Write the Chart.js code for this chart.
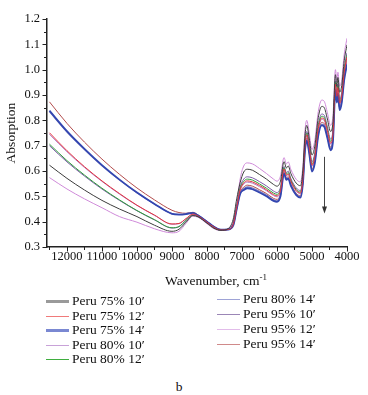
<!DOCTYPE html>
<html><head><meta charset="utf-8">
<script src="https://cdn.jsdelivr.net/npm/chart.js@4.4.1/dist/chart.umd.min.js"></script>
<style>
html,body{margin:0;padding:0;background:#fff;}
body{width:368px;height:395px;position:relative;overflow:hidden;font-family:"Liberation Serif","Times New Roman",serif;color:#111;}
#wrap{position:absolute;left:0;top:0;width:368px;height:300px;}
.lg{position:absolute;font-size:13.5px;line-height:15px;white-space:nowrap;}
.sw{position:absolute;width:23px;}
#cap{position:absolute;left:0;width:358px;text-align:center;top:379px;font-size:13.5px;line-height:15px;}
#xtitle{position:absolute;left:116px;width:200px;text-align:center;top:273px;font-size:13.5px;line-height:15px;white-space:nowrap;}
#xtitle sup{font-size:9px;vertical-align:5px;line-height:0;}
</style></head><body>
<div id="wrap"><canvas id="c"></canvas></div>
<div id="xtitle">Wavenumber, cm<sup>-1</sup></div>
<div id="legend"></div>
<div id="cap">b</div>
<script>
// ---- data ----
const wavenumbers = [12500,12000,11500,11000,10500,10000,9500,9000,8800,8600,8400,8250,8000,7800,7600,7400,7250,7150,7050,6950,6850,6700,6500,6300,6100,6000,5900,5800,5730,5680,5600,5450,5330,5260,5200,5150,5080,5000,4920,4820,4720,4650,4560,4470,4400,4330,4290,4260,4210,4150,4080,4000];
const peru75_10 = [0.623,0.571,0.525,0.484,0.450,0.420,0.386,0.362,0.370,0.398,0.424,0.419,0.394,0.374,0.366,0.372,0.410,0.490,0.555,0.596,0.607,0.603,0.586,0.568,0.547,0.540,0.560,0.637,0.612,0.620,0.589,0.552,0.542,0.603,0.740,0.780,0.730,0.663,0.698,0.811,0.855,0.850,0.805,0.756,0.795,0.980,0.934,0.969,0.911,0.938,1.035,1.098];
const peru75_12 = [0.751,0.680,0.617,0.561,0.511,0.465,0.426,0.391,0.393,0.412,0.430,0.422,0.398,0.378,0.367,0.369,0.389,0.456,0.527,0.553,0.561,0.557,0.543,0.526,0.507,0.502,0.523,0.608,0.583,0.589,0.559,0.523,0.513,0.570,0.703,0.743,0.693,0.623,0.656,0.768,0.809,0.804,0.759,0.710,0.749,0.943,0.895,0.930,0.868,0.896,0.989,1.050];
const peru75_14 = [0.838,0.757,0.687,0.623,0.566,0.515,0.470,0.431,0.428,0.430,0.435,0.424,0.400,0.380,0.368,0.369,0.385,0.450,0.510,0.525,0.532,0.528,0.515,0.500,0.482,0.478,0.500,0.590,0.565,0.570,0.540,0.505,0.495,0.550,0.680,0.720,0.670,0.598,0.630,0.740,0.780,0.775,0.730,0.682,0.720,0.920,0.870,0.905,0.840,0.870,0.960,1.020];
const peru80_10 = [0.745,0.676,0.614,0.559,0.509,0.464,0.425,0.390,0.392,0.411,0.429,0.421,0.398,0.378,0.367,0.369,0.389,0.455,0.524,0.548,0.556,0.552,0.538,0.522,0.503,0.498,0.519,0.605,0.580,0.586,0.556,0.520,0.510,0.567,0.699,0.739,0.689,0.619,0.652,0.763,0.804,0.799,0.754,0.706,0.744,0.939,0.890,0.925,0.863,0.892,0.984,1.045];
const peru80_12 = [0.706,0.641,0.584,0.532,0.486,0.444,0.408,0.376,0.381,0.405,0.427,0.420,0.396,0.376,0.366,0.370,0.390,0.457,0.532,0.559,0.568,0.564,0.549,0.532,0.513,0.508,0.529,0.613,0.588,0.594,0.563,0.527,0.517,0.575,0.709,0.749,0.699,0.629,0.662,0.774,0.816,0.811,0.766,0.717,0.756,0.949,0.901,0.936,0.874,0.902,0.996,1.057];
const peru80_14 = [0.834,0.754,0.685,0.621,0.565,0.514,0.470,0.432,0.429,0.430,0.434,0.424,0.399,0.379,0.368,0.369,0.386,0.451,0.513,0.530,0.537,0.533,0.520,0.505,0.486,0.482,0.504,0.593,0.568,0.573,0.543,0.508,0.498,0.554,0.684,0.724,0.674,0.602,0.635,0.745,0.785,0.780,0.735,0.687,0.725,0.924,0.874,0.909,0.845,0.875,0.965,1.025];
const peru95_10 = [0.700,0.636,0.580,0.529,0.484,0.443,0.407,0.375,0.380,0.404,0.426,0.419,0.396,0.376,0.366,0.370,0.392,0.459,0.537,0.568,0.577,0.573,0.558,0.541,0.521,0.515,0.536,0.618,0.593,0.600,0.569,0.533,0.523,0.582,0.716,0.756,0.706,0.637,0.671,0.783,0.825,0.820,0.775,0.726,0.765,0.956,0.908,0.943,0.883,0.911,1.005,1.067];
const peru95_12 = [0.574,0.529,0.490,0.455,0.420,0.398,0.372,0.356,0.362,0.393,0.422,0.417,0.392,0.372,0.365,0.372,0.400,0.470,0.570,0.620,0.632,0.628,0.610,0.590,0.568,0.560,0.580,0.653,0.628,0.636,0.605,0.567,0.557,0.620,0.760,0.800,0.750,0.685,0.720,0.835,0.880,0.875,0.830,0.780,0.820,1.000,0.955,0.990,0.935,0.960,1.060,1.124];
const peru95_14 = [0.873,0.788,0.714,0.647,0.587,0.533,0.486,0.445,0.436,0.433,0.437,0.426,0.401,0.381,0.369,0.370,0.387,0.452,0.517,0.536,0.544,0.540,0.526,0.511,0.492,0.488,0.510,0.598,0.573,0.578,0.548,0.512,0.502,0.558,0.690,0.730,0.680,0.608,0.641,0.751,0.792,0.787,0.742,0.694,0.732,0.930,0.880,0.915,0.851,0.881,0.972,1.032];
const seriesLabels = ["Peru 75% 10\u2032","Peru 75% 12\u2032","Peru 75% 14\u2032","Peru 80% 10\u2032","Peru 80% 12\u2032","Peru 80% 14\u2032","Peru 95% 10\u2032","Peru 95% 12\u2032","Peru 95% 14\u2032"];
const xMajorTicks = [12000,11000,10000,9000,8000,7000,6000,5000,4000];
const xMinorTicks = [12500,11500,10500,9500,8500,7500,6500,5500,4500];
const yMajorTicks = [0.3,0.4,0.5,0.6,0.7,0.8,0.9,1.0,1.1,1.2];
const yMinorTicks = [0.35,0.45,0.55,0.65,0.75,0.85,0.95,1.05,1.15];
const arrowWavenumber = 4670;
const arrowFrom = 0.656;
const arrowTo = 0.432;

// ---- styles ----
const seriesValues = [peru75_10,peru75_12,peru75_14,peru80_10,peru80_12,peru80_14,peru95_10,peru95_12,peru95_14];
const lineColors = ['#3c3c3c','#e2343c','#3346b0','#b27ac4','#2f9e3a','#7478c0','#7a5aa6','#cf8ad9','#b24c4c'];
const lineWidths = [1,1,1.8,1,1,1.2,1,1,1];
const legendColors = ['#9a9a9a','#f07a7a','#7a88d2','#c8a2d8','#3fae3f','#9ea3d6','#9b86b6','#e2bcea','#d08a8a'];
const legendWidths = [2.5,1,2.5,1,1.5,1.5,1,1.5,1];

const FONT = '"Liberation Serif","Times New Roman",serif';

const datasets = seriesLabels.map((lab,i)=>({
  label: lab,
  data: wavenumbers.map((w,k)=>({x:w, y:seriesValues[i][k]})),
  borderColor: lineColors[i],
  borderWidth: lineWidths[i],
  pointRadius: 0,
  fill: false,
  cubicInterpolationMode: 'monotone'
}));

const axisTicks = {
  id: 'axisTicks',
  afterDatasetsDraw(chart){
    const {ctx, scales:{x,y}} = chart;
    ctx.save();
    const ax = Math.round(x.getPixelForValue(arrowWavenumber))+0.5;
    const y1 = y.getPixelForValue(arrowFrom), y2 = y.getPixelForValue(arrowTo);
    ctx.strokeStyle = '#444'; ctx.fillStyle = '#333'; ctx.lineWidth = 1;
    ctx.beginPath(); ctx.moveTo(ax,y1); ctx.lineTo(ax,y2-5); ctx.stroke();
    ctx.beginPath(); ctx.moveTo(ax-2.5,y2-7); ctx.lineTo(ax+2.5,y2-7); ctx.lineTo(ax,y2); ctx.closePath(); ctx.fill();
    ctx.restore();
  },
  afterDraw(chart){
    const {ctx, scales:{x,y}, chartArea:a} = chart;
    ctx.save();
    ctx.strokeStyle = '#222'; ctx.lineWidth = 1;
    ctx.beginPath();
    xMajorTicks.forEach(v=>{const p=Math.round(x.getPixelForValue(v))+0.5; ctx.moveTo(p,a.bottom); ctx.lineTo(p,a.bottom+4.5);});
    xMinorTicks.forEach(v=>{const p=Math.round(x.getPixelForValue(v))+0.5; ctx.moveTo(p,a.bottom); ctx.lineTo(p,a.bottom+3);});
    yMajorTicks.forEach(v=>{const p=Math.round(y.getPixelForValue(v))+0.5; ctx.moveTo(a.left,p); ctx.lineTo(a.left-4.5,p);});
    yMinorTicks.forEach(v=>{const p=Math.round(y.getPixelForValue(v))+0.5; ctx.moveTo(a.left,p); ctx.lineTo(a.left-3,p);});
    ctx.stroke();
    ctx.restore();
  }
};

new Chart(document.getElementById('c'), {
  type: 'line',
  data: { datasets },
  plugins: [axisTicks],
  options: {
    responsive: true, maintainAspectRatio: false, animation: false, devicePixelRatio: 1,
    layout: { padding: { top: 19, right: 21, bottom: 0, left: 0 } },
    plugins: { legend: { display: false }, tooltip: { enabled: false } },
    scales: {
      x: {
        type: 'linear', reverse: true, min: 4000, max: 12570,
        afterBuildTicks: s => { s.ticks = xMajorTicks.map(v=>({value:v})); },
        afterFit: s => { s.height = 53; },
        grid: { display: false, drawTicks: false },
        border: { display: true, color: '#222', width: 1.5 },
        ticks: { autoSkip: false, maxRotation: 0, padding: 2, color: '#111', font: { family: FONT, size: 12.5 }, callback: v => String(v) }
      },
      y: {
        type: 'linear', min: 0.3, max: 1.2,
        afterBuildTicks: s => { s.ticks = yMajorTicks.map(v=>({value:v})); },
        afterFit: s => { s.width = 47; },
        grid: { display: false, drawTicks: false },
        border: { display: true, color: '#222', width: 1.5 },
        ticks: { padding: 7, color: '#111', font: { family: FONT, size: 12.5 }, callback: v => Number(v).toFixed(1) },
        title: { display: true, text: 'Absorption', color: '#111', font: { family: FONT, size: 13.5 }, padding: { top: 3, bottom: 0 } }
      }
    }
  }
});

// ---- legend (HTML) ----
const legendSlots = [[46,293],[46,307.5],[46,322],[46,336.5],[46,351],[217,291],[217,306],[217,321],[217,336]];
const lg = document.getElementById('legend');
seriesLabels.forEach((lab,i)=>{
  const [lx,ty] = legendSlots[i];
  const sw = document.createElement('div');
  sw.className = 'sw';
  sw.style.left = lx+'px';
  sw.style.top = (ty+8.5-legendWidths[i]/2)+'px';
  sw.style.height = legendWidths[i]+'px';
  sw.style.background = legendColors[i];
  lg.appendChild(sw);
  const t = document.createElement('div');
  t.className = 'lg';
  t.style.left = (lx+26)+'px';
  t.style.top = ty+'px';
  t.textContent = lab;
  lg.appendChild(t);
});
</script>
</body></html>
